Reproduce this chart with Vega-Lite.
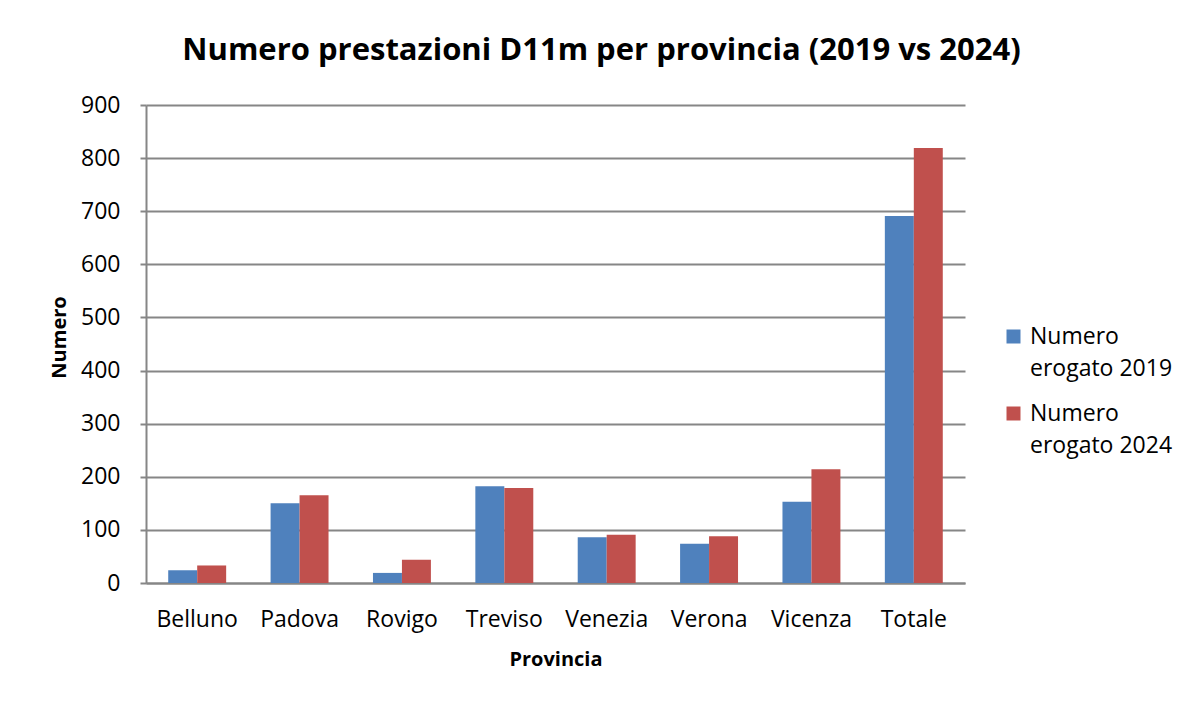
{
  "$schema": "https://vega.github.io/schema/vega-lite/v6.json",
  "width": 819,
  "height": 478,
  "autosize": {"type": "none"},
  "padding": {"left": 146, "top": 105, "right": 233, "bottom": 121},
  "background": "white",
  "title": {
    "text": "Numero prestazioni D11m per provincia (2019 vs 2024)",
    "font": "Open Sans",
    "fontSize": 31,
    "fontWeight": "bold",
    "color": "black",
    "anchor": "middle",
    "frame": "group",
    "dx": 46,
    "baseline": "alphabetic",
    "offset": 3
  },
  "data": {
    "values": [
      {"provincia": "Belluno", "serie": "Numero erogato 2019", "valore": 24},
      {"provincia": "Padova", "serie": "Numero erogato 2019", "valore": 150},
      {"provincia": "Rovigo", "serie": "Numero erogato 2019", "valore": 19},
      {"provincia": "Treviso", "serie": "Numero erogato 2019", "valore": 182},
      {"provincia": "Venezia", "serie": "Numero erogato 2019", "valore": 86},
      {"provincia": "Verona", "serie": "Numero erogato 2019", "valore": 74},
      {"provincia": "Vicenza", "serie": "Numero erogato 2019", "valore": 153},
      {"provincia": "Totale", "serie": "Numero erogato 2019", "valore": 691},
      {"provincia": "Belluno", "serie": "Numero erogato 2024", "valore": 33},
      {"provincia": "Padova", "serie": "Numero erogato 2024", "valore": 165},
      {"provincia": "Rovigo", "serie": "Numero erogato 2024", "valore": 44},
      {"provincia": "Treviso", "serie": "Numero erogato 2024", "valore": 179},
      {"provincia": "Venezia", "serie": "Numero erogato 2024", "valore": 91},
      {"provincia": "Verona", "serie": "Numero erogato 2024", "valore": 88},
      {"provincia": "Vicenza", "serie": "Numero erogato 2024", "valore": 214},
      {"provincia": "Totale", "serie": "Numero erogato 2024", "valore": 819}
    ]
  },
  "mark": {"type": "bar"},
  "encoding": {
    "x": {
      "field": "provincia",
      "type": "nominal",
      "sort": ["Belluno", "Padova", "Rovigo", "Treviso", "Venezia", "Verona", "Vicenza", "Totale"],
      "scale": {"paddingInner": 0.434, "paddingOuter": 0.217},
      "axis": {
        "title": "Provincia",
        "labelAngle": 0,
        "ticks": false,
        "tickSize": 0,
        "domainColor": "#868686",
        "domainWidth": 2,
        "labelFont": "Open Sans",
        "labelFontSize": 23,
        "labelColor": "black",
        "labelBaseline": "alphabetic",
        "labelPadding": 43,
        "titleFont": "Open Sans",
        "titleFontSize": 20,
        "titleFontWeight": "bold",
        "titleColor": "black",
        "titleBaseline": "alphabetic",
        "titleY": 82
      }
    },
    "xOffset": {
      "field": "serie",
      "type": "nominal",
      "scale": {"paddingInner": 0, "paddingOuter": 0}
    },
    "y": {
      "field": "valore",
      "type": "quantitative",
      "scale": {"domain": [0, 900], "nice": false},
      "axis": {
        "title": "Numero",
        "values": [0, 100, 200, 300, 400, 500, 600, 700, 800, 900],
        "grid": true,
        "gridColor": "#868686",
        "gridWidth": 2,
        "domainColor": "#868686",
        "domainWidth": 2,
        "tickColor": "#868686",
        "tickWidth": 2,
        "tickSize": 6,
        "labelFont": "Open Sans",
        "labelFontSize": 23,
        "labelColor": "black",
        "labelPadding": 20,
        "titleFont": "Open Sans",
        "titleFontSize": 20,
        "titleFontWeight": "bold",
        "titleColor": "black",
        "titleBaseline": "alphabetic",
        "titleX": -81,
        "titleY": 232
      }
    },
    "color": {
      "field": "serie",
      "type": "nominal",
      "scale": {"range": ["#4F81BD", "#C0504D"]},
      "legend": {
        "title": null,
        "orient": "none",
        "legendX": 856,
        "legendY": 220,
        "padding": 0,
        "symbolType": "square",
        "symbolSize": 196,
        "symbolStrokeWidth": 0,
        "labelFont": "Open Sans",
        "labelFontSize": 23,
        "labelColor": "black",
        "labelOffset": 5,
        "labelLimit": 300,
        "rowPadding": 21,
        "labelExpr": "datum.label == 'Numero erogato 2019' ? ['Numero', 'erogato 2019'] : ['Numero', 'erogato 2024']"
      }
    }
  },
  "config": {
    "view": {"stroke": null},
    "style": {"guide-label": {"lineHeight": 32}}
  }
}
